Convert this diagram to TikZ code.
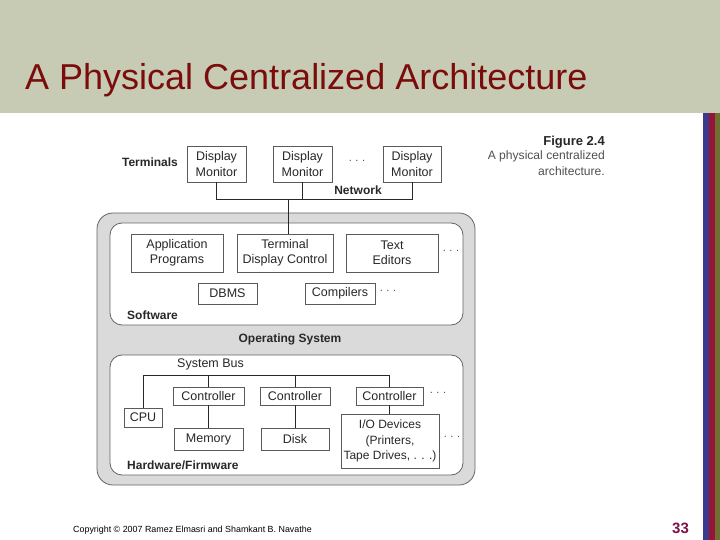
\documentclass[tikz,border=0pt]{standalone}
\usepackage{fontspec}
\setmainfont{Liberation Sans}
\definecolor{band}{RGB}{200,203,180}
\definecolor{titlec}{RGB}{122,12,12}
\definecolor{pagec}{RGB}{123,18,72}
\definecolor{barblue}{RGB}{60,58,140}
\definecolor{barred}{RGB}{150,20,55}
\definecolor{barolive}{RGB}{110,112,50}
\definecolor{boxc}{RGB}{90,90,90}
\definecolor{txt}{RGB}{40,40,40}
\definecolor{osfill}{RGB}{218,218,218}
\definecolor{osline}{RGB}{100,100,100}
\definecolor{capc}{RGB}{80,80,80}
\tikzset{
  box/.style={draw=boxc, fill=white, line width=0.7pt, inner sep=0pt, align=center,
    font=\fontsize{12.5}{15.5}\selectfont, text=txt},
  lbl/.style={inner sep=0pt, font=\fontsize{12}{14}\selectfont\bfseries, text=txt},
  dots/.style={inner sep=0pt, font=\fontsize{11}{12}\selectfont, text=capc},
  wire/.style={draw=txt, line width=0.7pt},
}
\begin{document}
\begin{tikzpicture}[x=1pt,y=-1pt]
\useasboundingbox (0,0) rectangle (720,540);
\fill[white] (0,0) rectangle (720,540);
% header band
\fill[band] (0,0) rectangle (720,113);
\node[anchor=base west, inner sep=0pt, text=titlec, font=\fontsize{36}{40}\selectfont] (title) at (25,90) {A Physical Centralized Architecture};
% right bars
\fill[barblue] (703,113) rectangle (708.5,540);
\fill[barred] (708.5,113) rectangle (714.5,540);
\fill[barolive] (714.5,113) rectangle (720,540);
% caption
\node[anchor=east, inner sep=0pt, font=\fontsize{13}{15}\selectfont\bfseries, text=txt] (figno) at (605,142) {Figure 2.4};
\node[anchor=north east, inner sep=0pt, align=right, font=\fontsize{12.1}{16}\selectfont, text=capc] (figcap) at (605,150.5) {A physical centralized\\architecture.};
% OS outer and layers
\draw[osline, fill=osfill, line width=0.8pt, rounded corners=16pt] (97,213) rectangle (475,485);
\draw[osline, fill=white, line width=0.8pt, rounded corners=12pt] (110,223) rectangle (463,325);
\draw[osline, fill=white, line width=0.8pt, rounded corners=12pt] (110,355) rectangle (463,475);
% terminals
\node[lbl] (term) at (150,162) {Terminals};
\node[box, minimum width=59pt, minimum height=36pt] (dm1) at (216.5,164) {Display\\Monitor};
\node[box, minimum width=59pt, minimum height=36pt] (dm2) at (302.5,164) {Display\\Monitor};
\node[dots] (d0) at (357,161) {.\,\,.\,\,.};
\node[box, minimum width=58pt, minimum height=36pt] (dm3) at (412,164) {Display\\Monitor};
\coordinate (netL) at (216.5,199);
\coordinate (netR) at (412,199);
\coordinate (netM) at (288,199);
\node[lbl] (netlbl) at (358,190) {Network};
% software
\node[box, minimum width=92pt, minimum height=38pt] (ap) at (177,253) {Application\\Programs};
\node[box, minimum width=96pt, minimum height=38pt] (tdc) at (285,253) {Terminal\\Display Control};
\node[box, minimum width=92pt, minimum height=38pt] (te) at (392,253) {Text\\Editors};
\node[dots] (d1) at (451,251) {.\,\,.\,\,.};
\node[box, minimum width=59pt, minimum height=21pt] (dbms) at (227.5,293.5) {DBMS};
\node[box, minimum width=70pt, minimum height=21pt] (comp) at (340,293.5) {Compilers};
\node[dots] (d2) at (388,291) {.\,\,.\,\,.};
\node[lbl, anchor=west] (sw) at (127,315) {Software};
\node[lbl] (os) at (290,339) {Operating System};
% hardware
\node[anchor=west, inner sep=0pt, font=\fontsize{12.5}{14}\selectfont, text=txt] (sbus) at (177,364.5) {System Bus};
\node[box, minimum width=38pt, minimum height=19pt] (cpu) at (143,417.5) {CPU};
\node[box, minimum width=71pt, minimum height=18pt] (c1) at (208.5,396) {Controller};
\node[box, minimum width=70pt, minimum height=18pt] (c2) at (295,396) {Controller};
\node[box, minimum width=67pt, minimum height=18pt] (c3) at (389.5,396) {Controller};
\node[dots] (d3) at (438,393) {.\,\,.\,\,.};
\node[box, minimum width=69pt, minimum height=22pt] (mem) at (208.5,439) {Memory};
\node[box, minimum width=68pt, minimum height=22pt] (disk) at (295,439) {Disk};
\node[box, minimum width=98pt, minimum height=54pt, font=\fontsize{12}{15.5}\selectfont] (io) at (390,441) {I/O Devices\\(Printers,\\Tape Drives, . . .)};
\node[dots] (d4) at (452,437) {.\,\,.\,\,.};
\node[lbl, anchor=west] (hw) at (127,465) {Hardware/Firmware};
\coordinate (busL) at (143,375);
\coordinate (busR) at (389.5,375);
% footer
\node[anchor=west, inner sep=0pt, font=\fontsize{8.9}{10}\selectfont, text=black] (copy) at (73,530) {Copyright © 2007 Ramez Elmasri and Shamkant B. Navathe};
\node[anchor=west, inner sep=0pt, font=\fontsize{15}{17}\selectfont\bfseries, text=pagec] (page) at (672,528) {33};
% wires
\draw[wire] (dm1.south) -- (netL) -- (netR) -- (dm3.south);
\draw[wire] (dm2.south) -- (dm2.south |- netL);
\draw[wire] (netM) -- (netM |- tdc.north);
\draw[wire] (busL) -- (busR);
\draw[wire] (busL) -- (cpu.north);
\draw[wire] (c1.north |- busL) -- (c1.north);
\draw[wire] (c2.north |- busL) -- (c2.north);
\draw[wire] (busR) -- (c3.north);
\draw[wire] (c1.south) -- (mem.north);
\draw[wire] (c2.south) -- (disk.north);
\draw[wire] (c3.south) -- (c3.south |- io.north);
\end{tikzpicture}
\end{document}
